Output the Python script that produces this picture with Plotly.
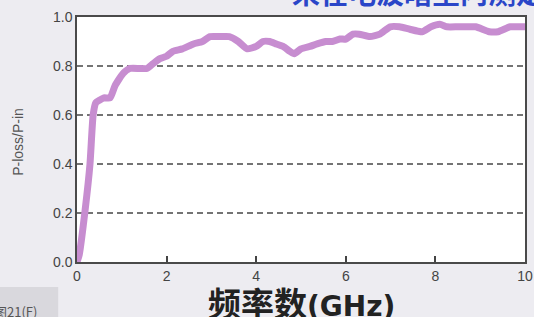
import plotly.graph_objects as go

freq_ghz = [0, 0.05, 0.18, 0.29, 0.36, 0.42, 0.5, 0.6, 0.74, 0.85,
            1.03, 1.18, 1.4, 1.56, 1.7, 1.85, 2.0, 2.14, 2.35, 2.6,
            2.8, 2.97, 3.2, 3.4, 3.6, 3.8, 4.0, 4.15, 4.3, 4.45,
            4.6, 4.75, 4.85, 5.0, 5.2, 5.36, 5.55, 5.7, 5.87, 6.0,
            6.16, 6.3, 6.54, 6.76, 6.99, 7.2, 7.43, 7.7, 7.9, 8.1,
            8.26, 8.5, 8.7, 8.9, 9.2, 9.4, 9.67, 9.9, 10.0]
loss_ratio = [0.0, 0.03, 0.21, 0.40, 0.60, 0.65, 0.66, 0.67, 0.67, 0.72,
              0.77, 0.79, 0.79, 0.79, 0.81, 0.83, 0.84, 0.86, 0.87, 0.89,
              0.90, 0.92, 0.92, 0.92, 0.90, 0.87, 0.88, 0.90, 0.90, 0.89,
              0.88, 0.86, 0.85, 0.87, 0.88, 0.89, 0.90, 0.90, 0.91, 0.91,
              0.93, 0.93, 0.92, 0.93, 0.96, 0.96, 0.95, 0.94, 0.96, 0.97,
              0.96, 0.96, 0.96, 0.96, 0.94, 0.94, 0.96, 0.96, 0.96]

x_ticks = [0, 2, 4, 6, 8, 10]
x_tick_labels = ["0", "2", "4", "6", "8", "10"]
y_ticks = [0.0, 0.2, 0.4, 0.6, 0.8, 1.0]
y_tick_labels = ["0.0", "0.2", "0.4", "0.6", "0.8", "1.0"]

x_title_cjk = "频率数"
x_title_unit = "(GHz)"
y_title = "P-loss/P-in"
top_text = "来在电波暗室内测定"
corner_text = "图21(F)"

BG = "#edecf1"

fig = go.Figure()
fig.add_trace(go.Scatter(
    x=freq_ghz, y=loss_ratio, mode="lines",
    line=dict(color="#c78dd0", width=7, shape="spline", smoothing=0.5),
    showlegend=False, hoverinfo="skip",
))

fig.update_layout(
    autosize=False,
    width=534, height=317,
    margin=dict(l=77, r=9, t=17, b=55),
    paper_bgcolor=BG,
    plot_bgcolor="#ffffff",
    font=dict(family="Liberation Sans, Noto Sans CJK SC", color="#444444", size=14),
    xaxis=dict(
        range=[0, 10], tickvals=x_ticks, ticktext=x_tick_labels,
        ticks="inside", ticklen=6, tickcolor="#444", tickwidth=1.5,
        showline=True, linecolor="#4a4a4a", linewidth=1.5, mirror=True,
        showgrid=False, zeroline=False, automargin=False,
        tickfont=dict(size=14, color="#444"),
    ),
    yaxis=dict(
        range=[0, 1], tickvals=y_ticks, ticktext=y_tick_labels,
        ticks="", showline=True, linecolor="#4a4a4a", linewidth=1.5, mirror=True,
        showgrid=True, gridcolor="#747474", gridwidth=1.5, griddash="6px,4px",
        zeroline=False, automargin=False,
        tickfont=dict(size=14, color="#444"),
    ),
    annotations=[
        dict(text=x_title_cjk + "<span style='font-family:DejaVu Sans;font-size:28px'>" + x_title_unit + "</span>",
             xref="paper", yref="paper", x=0.5, y=-0.163,
             xanchor="center", yanchor="middle", showarrow=False,
             font=dict(family="Noto Sans CJK SC", size=33, color="#222222", weight="bold")),
        dict(text=y_title, xref="paper", yref="paper", x=-0.132, y=0.49,
             xanchor="center", yanchor="middle", showarrow=False, textangle=-90,
             font=dict(family="Liberation Sans", size=14, color="#555555")),
        dict(text=top_text, xref="paper", yref="paper", x=0.475, y=1.012,
             xanchor="left", yanchor="bottom", showarrow=False,
             font=dict(family="Noto Sans CJK SC", size=28, color="#2a46c8", weight="bold")),
        dict(text=corner_text, xref="paper", yref="paper", x=-0.19, y=-0.204,
             xanchor="left", yanchor="middle", showarrow=False,
             font=dict(family="Noto Sans CJK SC", size=13, color="#555555")),
    ],
    shapes=[
        dict(type="rect", xref="paper", yref="paper", x0=-0.2, x1=-0.042,
             y0=-0.3, y1=-0.102, fillcolor="#d9d8dd", line=dict(width=0), layer="below"),
    ],
)

fig.write_html(
    "out.html",
    config={"displayModeBar": False, "responsive": False},
    post_script=("document.body.style.margin='0px';"
                 "document.body.style.overflow='hidden';"
                 "document.body.style.background='" + BG + "';"),
)
